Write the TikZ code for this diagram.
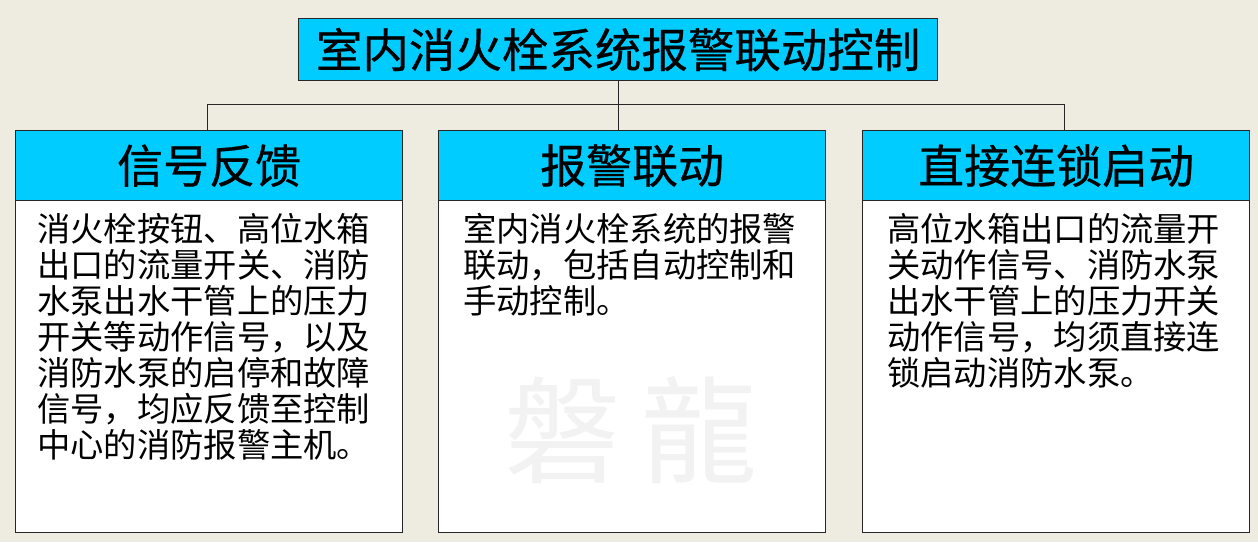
\documentclass[tikz,border=0pt]{standalone}
\usepackage{fontspec}
\newfontfamily\cjk{Noto Sans CJK SC}
\newfontfamily\cjkh[FakeBold=0.5]{Noto Sans CJK SC}
\definecolor{bgpaper}{RGB}{238,236,224}
\definecolor{hdcyan}{RGB}{0,204,255}
\definecolor{wmgray}{RGB}{242,242,242}
\begin{document}
\begin{tikzpicture}[x=1pt,y=-1pt,
  boxline/.style={draw=black!85,line width=1.3pt},
  title/.style={boxline,fill=hdcyan,inner sep=0pt,minimum width=639pt,minimum height=62pt,font=\cjkh\fontsize{46.5}{50}\selectfont},
  header/.style={boxline,fill=hdcyan,inner sep=0pt,minimum width=387pt,minimum height=70pt,font=\cjkh\fontsize{46}{50}\selectfont},
  bodybox/.style={boxline,fill=white,inner sep=0pt,minimum width=387pt,minimum height=332pt},
  bodytext/.style={anchor=north west,align=left,inner sep=0pt,font=\cjk\fontsize{33.3}{36}\selectfont},
  conn/.style={draw=black!85,line width=1pt}]
\fill[bgpaper] (0,0) rectangle (1258,542);
\useasboundingbox (0,0) rectangle (1258,542);
% title
\node[title,anchor=north west] (t) at (298,18) {室内消火栓系统报警联动控制};
% boxes
\node[bodybox,anchor=north west] (b1) at (15,200) {};
\node[bodybox,anchor=north west] (b2) at (438,200) {};
\node[bodybox,anchor=north west] (b3) at (862,200) {};
\node[header,anchor=north west] (h1) at (15,130) {信号反馈};
\node[header,anchor=north west] (h2) at (438,130) {报警联动};
\node[header,anchor=north west] (h3) at (862,130) {直接连锁启动};
% connectors
\draw[conn] (t.south) -- (t.south |- 0,104) coordinate (jm);
\draw[conn] (h1.north -| 207,0) -- (207,104) -- (1064,104) -- (h3.north -| 1064,0);
\draw[conn] (jm) -- (h2.north -| jm);
% watermark
\node[font=\cjk\fontsize{116}{116}\selectfont,text=wmgray,inner sep=0pt] (wm) at (631,430) {磐\hspace{22pt}龍};
% body texts
\node[bodytext] (x1) at (37,213) {消火栓按钮、高位水箱\\出口的流量开关、消防\\水泵出水干管上的压力\\开关等动作信号，以及\\消防水泵的启停和故障\\信号，均应反馈至控制\\中心的消防报警主机。};
\node[bodytext] (x2) at (463,213) {室内消火栓系统的报警\\联动，包括自动控制和\\手动控制。};
\node[bodytext] (x3) at (887,213) {高位水箱出口的流量开\\关动作信号、消防水泵\\出水干管上的压力开关\\动作信号，均须直接连\\锁启动消防水泵。};
\end{tikzpicture}
\end{document}
